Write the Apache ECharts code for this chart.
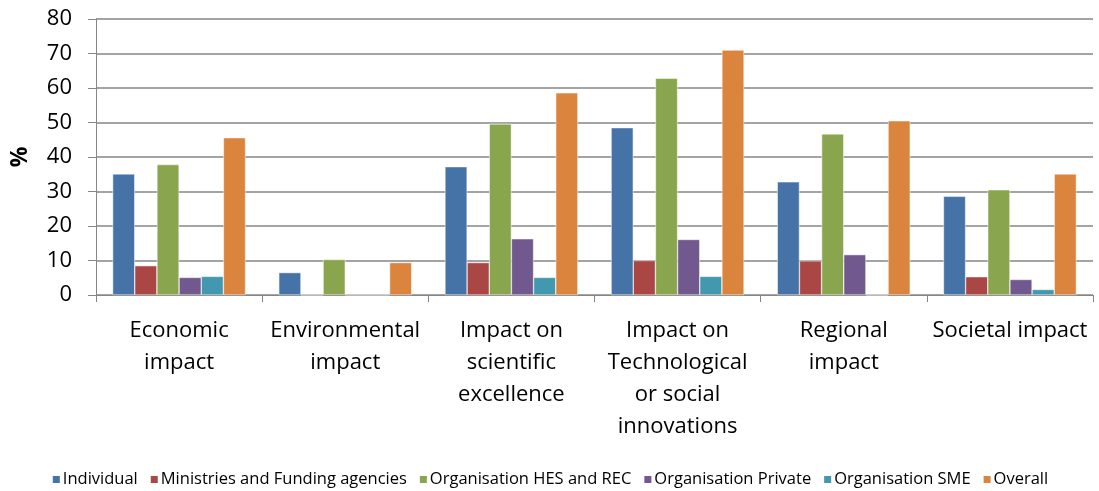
<!DOCTYPE html>
<html>
<head>
<meta charset="utf-8">
<script src="https://cdn.jsdelivr.net/npm/echarts@6/dist/echarts.min.js"></script>
<style>
  html, body { margin: 0; padding: 0; background: #fff; }
  #chart { width: 1099px; height: 491px; }
</style>
</head>
<body>
<div id="chart"></div>
<script>
var categories = ['Economic\nimpact', 'Environmental\nimpact', 'Impact on\nscientific\nexcellence',
  'Impact on\nTechnological\nor social\ninnovations', 'Regional\nimpact', 'Societal impact'];
var individual = [35.1, 6.5, 37.2, 48.5, 32.8, 28.6];
var ministries = [8.5, 0, 9.4, 10.0, 9.9, 5.3];
var hesRec     = [37.8, 10.3, 49.6, 62.8, 46.7, 30.5];
var privateOrg = [5.1, 0, 16.3, 16.1, 11.7, 4.5];
var sme        = [5.4, 0, 5.1, 5.4, 0, 1.6];
var overall    = [45.6, 9.4, 58.6, 71.0, 50.5, 35.1];
var seriesNames = ['Individual', 'Ministries and Funding agencies', 'Organisation HES and REC',
  'Organisation Private', 'Organisation SME', 'Overall'];
var colors = ['#4572A7', '#AA4643', '#89A54E', '#71588F', '#4198AF', '#DB843D'];

var font = 'Open Sans, Noto Sans, sans-serif';
var values = [individual, ministries, hesRec, privateOrg, sme, overall];

var myChart = echarts.init(document.getElementById('chart'));
var option = {
  animation: false,
  color: colors,
  grid: { left: 96, right: 6, top: 19, bottom: 196, outerBoundsMode: 'none', containLabel: false },
  legend: {
    bottom: -2,
    left: 'center',
    itemWidth: 9,
    itemHeight: 9,
    itemGap: 11,
    icon: 'rect',
    textStyle: { fontFamily: font, fontSize: 16.5, color: '#000', padding: [0, 0, 0, -3] },
    data: seriesNames
  },
  xAxis: {
    type: 'category',
    data: categories,
    axisLine: { lineStyle: { color: '#868686' } },
    axisTick: { show: true, length: 7, lineStyle: { color: '#868686' } },
    axisLabel: { fontFamily: font, fontSize: 22, color: '#000', lineHeight: 32, margin: 20, interval: 0 }
  },
  yAxis: {
    type: 'value',
    min: 0, max: 80, interval: 10,
    name: '%',
    nameLocation: 'middle',
    nameGap: 64,
    nameRotate: 90,
    nameTextStyle: { fontFamily: font, fontSize: 23, fontWeight: 'bold', color: '#000' },
    axisLine: { show: true, lineStyle: { color: '#868686' } },
    axisTick: { show: true, length: 8, lineStyle: { color: '#868686' } },
    splitLine: { lineStyle: { color: '#868686', width: 1.5 } },
    axisLabel: { fontFamily: font, fontSize: 22, color: '#000', margin: 24 }
  },
  series: seriesNames.map(function (n, i) {
    return {
      name: n,
      type: 'bar',
      data: values[i],
      barGap: '0%',
      barCategoryGap: '20%',
      itemStyle: { color: colors[i], borderColor: '#fff', borderWidth: 0.5 }
    };
  })
};
myChart.setOption(option);
</script>
</body>
</html>
